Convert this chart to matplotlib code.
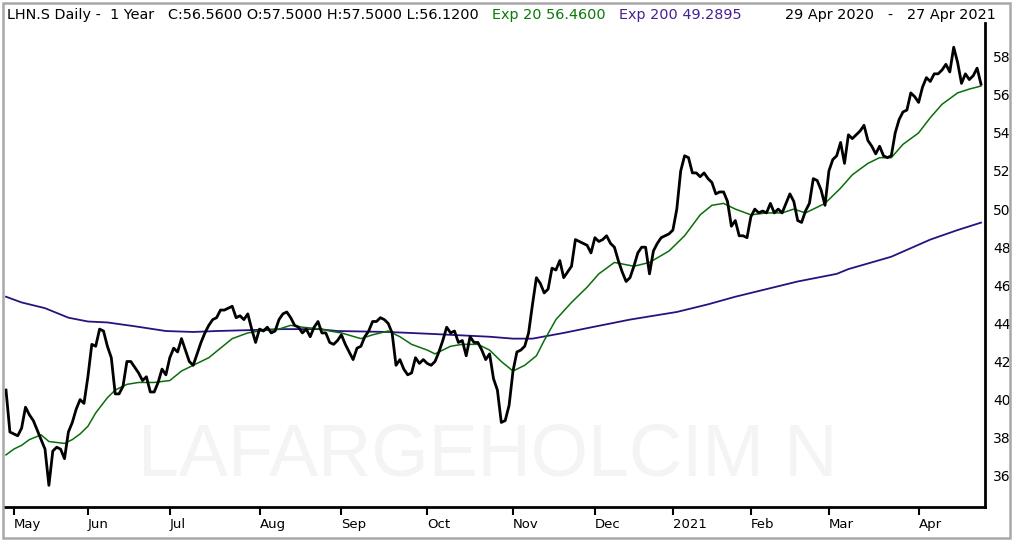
import numpy as np
import pandas as pd
import matplotlib
matplotlib.use("Agg")
import matplotlib.pyplot as plt
from matplotlib.patches import Rectangle

# trading days (SIX), 29 Apr 2020 - 27 Apr 2021
holidays = ["2020-05-01", "2020-05-21", "2020-06-01", "2020-12-24", "2020-12-25",
            "2020-12-31", "2021-01-01", "2021-04-02", "2021-04-05"]
days = pd.bdate_range("2020-04-29", "2021-04-27")
days = days[~days.isin(pd.to_datetime(holidays))]

# daily close
close = [
    40.5, 38.3, 38.2, 38.1, 38.5, 39.6, 39.2, 38.9, 38.4, 37.9,
    37.4, 35.5, 37.3, 37.5, 37.4, 36.9, 38.3, 38.8, 39.5, 40.0,
    39.8, 41.2, 42.9, 42.8, 43.7, 43.6, 42.8, 42.2, 40.3, 40.3,
    40.7, 42.0, 42.0, 41.7, 41.4, 41.0, 41.2, 40.4, 40.4, 40.9,
    41.6, 41.3, 42.2, 42.7, 42.5, 43.2, 42.6, 42.0, 41.8, 42.4,
    43.0, 43.5, 43.9, 44.2, 44.3, 44.7, 44.7, 44.8, 44.9, 44.3,
    44.4, 44.2, 44.5, 43.7, 43.0, 43.7, 43.6, 43.8, 43.5, 43.6,
    44.2, 44.5, 44.6, 44.3, 43.9, 43.8, 43.5, 43.7, 43.3, 43.8,
    44.1, 43.5, 43.5, 43.0, 42.9, 43.1, 43.4, 42.9, 42.5, 42.1,
    42.7, 42.8, 43.3, 43.6, 44.1, 44.1, 44.3, 44.2, 44.0, 43.5,
    41.8, 42.1, 41.6, 41.3, 41.4, 42.2, 41.9, 42.1, 41.9, 41.8,
    42.0, 42.5, 43.1, 43.8, 43.5, 43.6, 43.0, 43.1, 42.3, 43.3,
    43.0, 43.0, 42.6, 42.1, 42.4, 41.1, 40.5, 38.8, 38.9, 39.7,
    41.5, 42.5, 42.6, 42.8, 43.5, 45.0, 46.4, 46.1, 45.6, 45.8,
    46.9, 46.8, 47.3, 46.4, 46.7, 47.0, 48.4, 48.3, 48.2, 48.1,
    47.7, 48.5, 48.3, 48.4, 48.6, 48.2, 48.0, 47.3, 46.7, 46.2,
    46.4, 47.0, 47.7, 48.0, 48.0, 46.6, 47.8, 48.2, 48.5, 48.6,
    48.7, 48.9, 50.0, 52.0, 52.8, 52.7, 51.9, 51.9, 51.7, 51.9,
    51.6, 51.4, 50.8, 50.9, 50.9, 50.4, 49.1, 49.4, 48.6, 48.6,
    48.5, 49.6, 50.0, 49.8, 49.9, 49.8, 50.3, 49.8, 50.0, 49.8,
    50.3, 50.8, 50.4, 49.4, 49.3, 49.9, 50.3, 51.6, 51.5, 51.0,
    50.2, 52.0, 52.6, 52.8, 53.5, 52.4, 53.9, 53.7, 53.9, 54.1,
    54.4, 53.6, 53.3, 52.9, 53.3, 52.8, 52.7, 52.8, 54.0, 54.7,
    55.1, 55.2, 56.1, 55.9, 55.6, 56.4, 56.9, 56.7, 57.1, 57.1,
    57.3, 57.6, 57.2, 58.5, 57.7, 56.6, 57.1, 56.8, 57.0, 57.4,
    56.56,
]

# moving averages, read at trading-day numbers
ema20_day = [0, 2, 4, 6, 9, 11, 15, 17, 19, 21, 23, 26, 28, 31, 34, 38, 42, 45, 48,
             52, 55, 58, 62, 65, 70, 73, 76, 81, 83, 86, 91, 94, 98, 101, 104, 108,
             110, 114, 117, 121, 124, 127, 130, 133, 136, 138, 141, 145, 149, 152,
             156, 161, 165, 170, 174, 178, 181, 184, 187, 191, 195, 199, 202, 205,
             207, 210, 214, 217, 221, 224, 227, 230, 234, 237, 240, 244, 247, 250]
ema20_val = [37.1, 37.4, 37.6, 37.9, 38.15, 37.8, 37.7, 37.9, 38.2, 38.6, 39.3, 40.1,
             40.5, 40.8, 40.9, 40.9, 41.0, 41.5, 41.8, 42.2, 42.7, 43.2, 43.5, 43.6,
             43.7, 43.9, 43.8, 43.7, 43.6, 43.5, 43.2, 43.4, 43.6, 43.3, 42.9, 42.6,
             42.4, 42.8, 42.9, 42.9, 42.6, 42.0, 41.5, 41.8, 42.3, 43.1, 44.2, 45.1,
             45.9, 46.6, 47.2, 47.0, 47.2, 47.8, 48.6, 49.7, 50.2, 50.3, 50.0, 49.7,
             49.8, 49.8, 50.0, 49.8, 50.0, 50.3, 51.1, 51.8, 52.4, 52.7, 52.7, 53.4,
             54.0, 54.8, 55.5, 56.1, 56.3, 56.46]

ema200_day = [0, 4, 10, 16, 21, 26, 33, 41, 48, 54, 63, 71, 80, 85, 98, 109, 124, 130,
              135, 143, 149, 160, 172, 180, 187, 195, 203, 213, 216, 227, 237, 244, 250]
ema200_val = [45.4, 45.1, 44.8, 44.3, 44.1, 44.05, 43.85, 43.6, 43.55, 43.6, 43.65,
              43.7, 43.7, 43.6, 43.55, 43.45, 43.3, 43.2, 43.2, 43.5, 43.75, 44.2, 44.6,
              45.0, 45.4, 45.8, 46.2, 46.6, 46.85, 47.5, 48.4, 48.9, 49.29]

y_ticks = list(range(36, 59, 2))

assert len(close) == len(days)
x = np.arange(len(days))

W, H = 1014, 542
fig = plt.figure(figsize=(W / 100, H / 100), dpi=100)
ax = fig.add_axes([4 / W, 1 - 507 / H, (985 - 4) / W, (507 - 23) / H])

# px mapping from the reference: x = 6 + 3.9*i, y(58) = 56.7, 19.05 px per unit
ax.set_xlim((4 - 6) / 3.9, (985 - 6) / 3.9)
ax.set_ylim(58 - (507 - 56.7) / 19.05, 58 + (56.7 - 23) / 19.05)

ax.text(488 / W, 1 - 456 / H, "LAFARGEHOLCIM N", transform=fig.transFigure,
        fontsize=53, family="Liberation Sans", color="#f4f4f4",
        ha="center", va="center", zorder=0)

ax.plot(ema200_day, ema200_val, color="#2b1080", lw=1.3)
ax.plot(ema20_day, ema20_val, color="#0a6e0a", lw=1.1)
ax.plot(x, close, color="black", lw=2.0)

for s in ["left", "top"]:
    ax.spines[s].set_visible(False)
for s in ["right", "bottom"]:
    ax.spines[s].set_linewidth(2.0)

ax.yaxis.tick_right()
ax.set_yticks(y_ticks)
ax.tick_params(axis="y", length=0, pad=6, labelsize=10)

month_pos, month_lab = [], []
for i, d in enumerate(days):
    if i > 0 and d.month != days[i - 1].month:
        month_pos.append(i)
        month_lab.append("2021" if d.month == 1 else d.strftime("%b"))
ax.set_xticks(month_pos)
ax.set_xticklabels(month_lab, ha="left", fontsize=9.5)
ax.tick_params(axis="x", length=6, width=1.5, pad=2)

# header
fy = 1 - 15 / H
hs = 10.4
fig.text(7 / W, fy, "LHN.S Daily -  1 Year   C:56.5600 O:57.5000 H:57.5000 L:56.1200",
         fontsize=hs, va="center", color="black")
fig.text(492 / W, fy, "Exp 20 56.4600", fontsize=hs, va="center", color="#0a7a0a")
fig.text(619 / W, fy, "Exp 200 49.2895", fontsize=hs, va="center", color="#4a1f8f")
fig.text(785 / W, fy, "29 Apr 2020   -   27 Apr 2021", fontsize=hs, va="center",
         color="black")

fig.patches.append(Rectangle((3 / W, 4 / H), 1007 / W, 535 / H, transform=fig.transFigure,
                             fill=False, edgecolor="#a8a8a8", lw=1.8))

fig.savefig("out.png", dpi=100)
